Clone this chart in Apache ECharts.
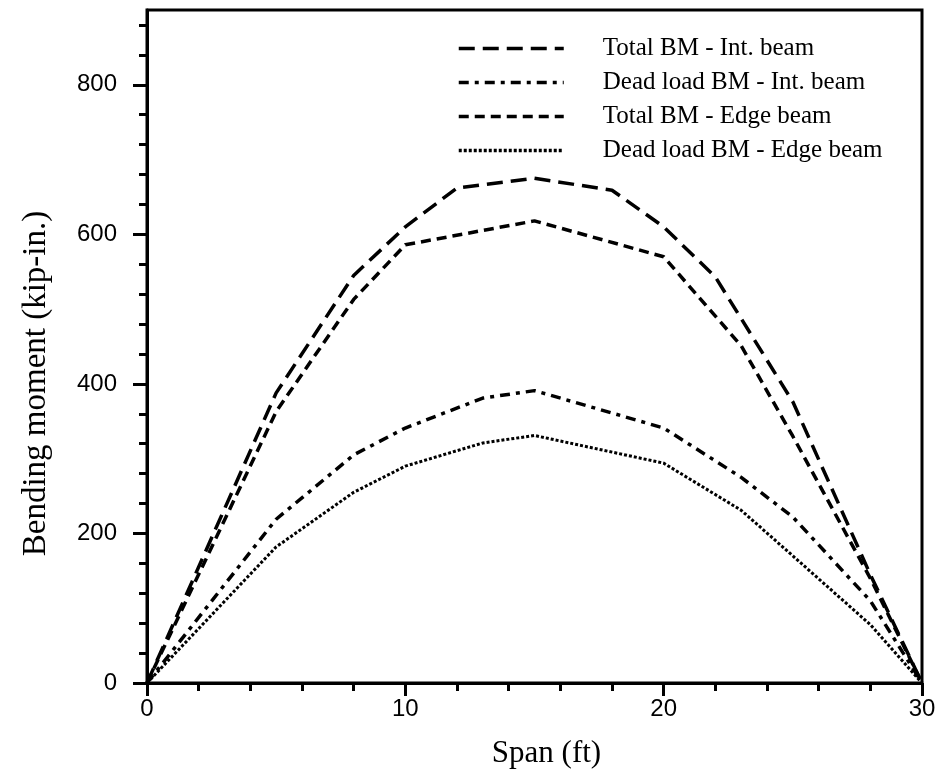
<!DOCTYPE html>
<html>
<head>
<meta charset="utf-8">
<script src="https://cdn.jsdelivr.net/npm/echarts@6/dist/echarts.min.js"></script>
<style>html,body{margin:0;padding:0;background:#fff}#c{width:943px;height:774px}</style>
</head>
<body>
<div id="c"></div>
<script>
// ---- data ----
var seriesNames = ['Total BM - Int. beam', 'Dead load BM - Int. beam', 'Total BM - Edge beam', 'Dead load BM - Edge beam'];
var totalIntX = [0, 5, 8, 10, 12, 15, 18, 20, 22, 25, 28, 30];
var totalIntY = [0, 388, 545, 610, 662, 675, 659, 610, 543, 376, 145, 0];
var deadIntX = [0, 5, 8, 10, 13, 15, 20, 23, 25, 28, 30];
var deadIntY = [0, 219, 305, 341, 381, 391, 341, 275, 222, 110, 0];
var totalEdgeX = [0, 5, 8, 10, 15, 20, 23, 25, 28, 30];
var totalEdgeY = [0, 363, 513, 586, 618, 570, 451, 330, 140, 0];
var deadEdgeX = [0, 5, 8, 10, 13, 15, 20, 23, 25, 28, 30];
var deadEdgeY = [0, 182, 255, 290, 321, 331, 294, 231, 170, 78, 0];
var yMajorTicks = [0, 200, 400, 600, 800];
var yMinorTicks = [0, 40, 80, 120, 160, 200, 240, 280, 320, 360, 400, 440, 480, 520, 560, 600, 640, 680, 720, 760, 800, 840, 880];
var xTickLabels = [0, 10, 20, 30];

function pairs(xs, ys) { return xs.map(function (x, i) { return [x, ys[i]]; }); }

var chart = echarts.init(document.getElementById('c'), null, { renderer: 'canvas' });
var serif = 'Liberation Serif';
var sans = 'Liberation Sans';
function lineSeries(name, data, dash, w) {
  return {
    name: name, type: 'line', data: data, symbol: 'none', yAxisIndex: 0,
    lineStyle: { color: '#000', width: w, type: dash, cap: 'butt' },
    itemStyle: { color: '#000' }, animation: false
  };
}
var option = {
  backgroundColor: '#fff',
  animation: false,
  grid: { left: 147, right: 21, top: 10, bottom: 87, show: true, borderColor: '#000', borderWidth: 3, backgroundColor: 'transparent' },
  legend: {
    orient: 'vertical', left: 452, top: 31, itemWidth: 105, itemHeight: 14, itemGap: 9,
    itemStyle: { opacity: 0 },
    lineStyle: { width: 3.5 },
    textStyle: { fontFamily: serif, fontSize: 25, color: '#000', padding: [0, 0, 0, 34] },
    data: seriesNames
  },
  xAxis: {
    type: 'value', min: 0, max: 30, interval: 10,
    name: 'Span (ft)', nameLocation: 'middle', nameGap: 55,
    nameTextStyle: { fontFamily: serif, fontSize: 31, color: '#000', padding: [0, 0, 0, 24] },
    axisLine: { lineStyle: { color: '#000', width: 3 } },
    axisTick: { show: true, length: 13, lineStyle: { color: '#000', width: 3 } },
    minorTick: { show: true, splitNumber: 5, length: 8, lineStyle: { color: '#000', width: 3 } },
    axisLabel: { fontFamily: sans, fontSize: 24, color: '#000', margin: 14, customValues: xTickLabels },
    splitLine: { show: false }
  },
  yAxis: [{
    type: 'value', min: 0, max: 900,
    name: 'Bending moment (kip-in.)', nameLocation: 'middle', nameGap: 94,
    nameTextStyle: { fontFamily: serif, fontSize: 33, color: '#000', padding: [0, 74, 0, 0] },
    axisLine: { lineStyle: { color: '#000', width: 3 } },
    axisTick: { show: true, length: 14, customValues: yMajorTicks, lineStyle: { color: '#000', width: 3 } },
    axisLabel: { fontFamily: sans, fontSize: 24, color: '#000', margin: 30, customValues: yMajorTicks },
    splitLine: { show: false }
  }, {
    type: 'value', min: 0, max: 900, position: 'left',
    axisLine: { show: false },
    axisTick: { show: true, length: 8, customValues: yMinorTicks, lineStyle: { color: '#000', width: 3 } },
    axisLabel: { show: false },
    splitLine: { show: false }
  }],
  series: [
    lineSeries(seriesNames[0], pairs(totalIntX, totalIntY), [16, 8], 3.5),
    lineSeries(seriesNames[1], pairs(deadIntX, deadIntY), [10, 6, 4, 6], 3.5),
    lineSeries(seriesNames[2], pairs(totalEdgeX, totalEdgeY), [10, 6], 3.5),
    lineSeries(seriesNames[3], pairs(deadEdgeX, deadEdgeY), [3, 2], 3)
  ]
};
chart.setOption(option);
</script>
</body>
</html>
